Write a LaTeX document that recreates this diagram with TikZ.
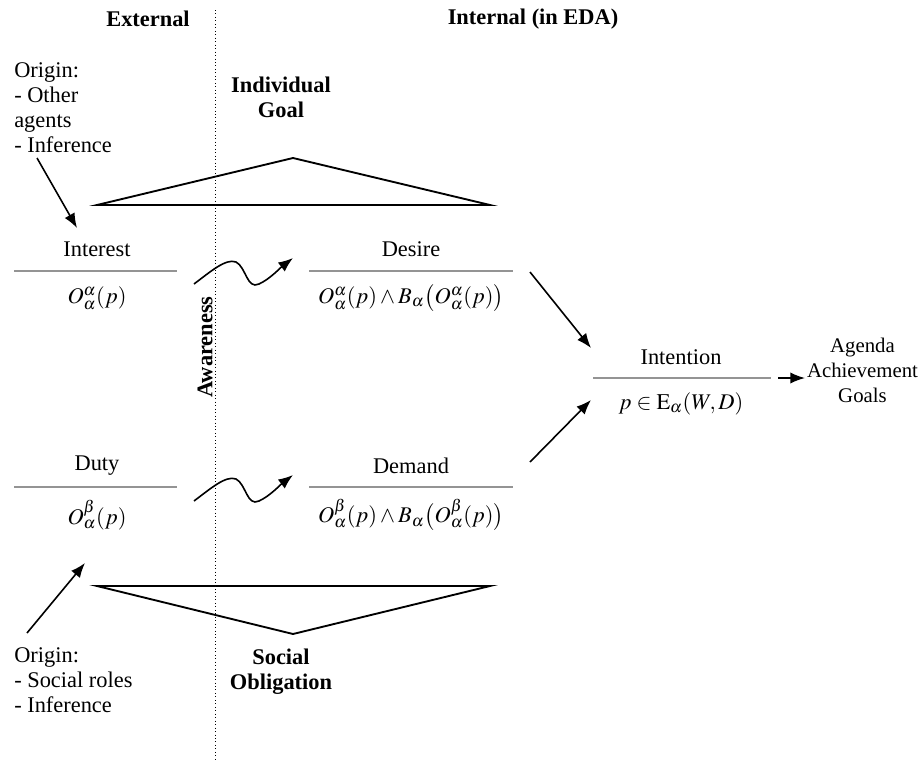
\documentclass[tikz,border=0pt]{standalone}
\usepackage{mathptmx}
\usepackage{fontspec}
\setmainfont{Liberation Serif}
\usetikzlibrary{arrows.meta}

\tikzset{
  lbl/.style={font=\fontsize{16.8}{18.75}\selectfont, inner sep=0pt, align=center},
  lblleft/.style={font=\fontsize{16.8}{18.75}\selectfont, inner sep=0pt, align=left},
  hdr/.style={font=\fontsize{16.8}{18.75}\selectfont\bfseries, inner sep=0pt, align=center},
  bar/.style={line width=2.2pt, draw=black!42},
  tri/.style={line width=1.4pt, line join=miter},
  arr/.style={line width=1.2pt, -{Latex[length=11pt,width=8.5pt]}},
  divider/.style={line width=0.6pt, dotted},
}

\begin{document}
\begin{tikzpicture}[x=0.75pt,y=-0.75pt]
\useasboundingbox (0,0) rectangle (918,768);

% column headings and the external/internal divider
\node[hdr] (ext) at (148,19) {External};
\node[hdr] (int) at (533,19) {Internal (in EDA)};
\coordinate (divtop) at (215,10);
\coordinate (divbot) at (215,762);
\draw[divider] (divtop) -- (divbot);
\node[hdr, rotate=90] (aware) at (205,347) {Awareness};

% individual goal (upper triangle)
\node[hdr] (igoal) at (281,97) {Individual\\Goal};
\coordinate (ta) at (97,205);
\coordinate (tb) at (490,205);
\coordinate (tc) at (293,158);
\draw[tri] (ta) -- (tc) -- (tb) -- cycle;

% social obligation (lower triangle)
\node[hdr] (sobl) at (281,672) {Social\\Obligation};
\coordinate (ba) at (97,586);
\coordinate (bb) at (490,586);
\coordinate (bc) at (293,634);
\draw[tri] (ba) -- (bc) -- (bb) -- cycle;

% origins
\node[lblleft, anchor=north west] (orig1) at (14,62) {Origin:\\- Other\\agents\\- Inference};
\node[lblleft, anchor=north west] (orig2) at (14,647) {Origin:\\- Social roles\\- Inference};

% Interest
\node[lbl] (interest) at (97,249) {Interest};
\coordinate (ib1) at (14,271); \coordinate (ib2) at (177,271);
\draw[bar] (ib1) -- (ib2);
\node[lbl] (interestf) at (97,298) {$O^{\alpha}_{\alpha}(p)$};

% Duty
\node[lbl] (duty) at (97,466) {Duty};
\coordinate (db1) at (14,487); \coordinate (db2) at (177,487);
\draw[bar] (db1) -- (db2);
\node[lbl] (dutyf) at (97,515) {$O^{\beta}_{\alpha}(p)$};

% Desire
\node[lbl] (desire) at (411,249) {Desire};
\coordinate (deb1) at (309,271); \coordinate (deb2) at (513,271);
\draw[bar] (deb1) -- (deb2);
\node[lbl] (desiref) at (411,298) {$O^{\alpha}_{\alpha}(p)\wedge B_{\alpha}\bigl(O^{\alpha}_{\alpha}(p)\bigr)$};

% Demand
\node[lbl] (demand) at (411,466) {Demand};
\coordinate (dmb1) at (309,487); \coordinate (dmb2) at (513,487);
\draw[bar] (dmb1) -- (dmb2);
\node[lbl] (demandf) at (411,515) {$O^{\beta}_{\alpha}(p)\wedge B_{\alpha}\bigl(O^{\beta}_{\alpha}(p)\bigr)$};

% Intention
\node[lbl] (intention) at (681,357) {Intention};
\coordinate (inb1) at (593,378); \coordinate (inb2) at (771,378);
\draw[bar] (inb1) -- (inb2);
\node[lbl] (intentionf) at (681,404) {$p\in \mathrm{E}_{\alpha}(W,D)$};

% Agenda
\node[lbl, font=\fontsize{15.6}{18.75}\selectfont] (agenda) at (862.5,370) {Agenda\\Achievement\\Goals};

% arrows from the origins
\coordinate (o1s) at (37,158); \coordinate (o1e) at (77,228);
\draw[arr] (o1s) -- (o1e);
\coordinate (o2s) at (27,633); \coordinate (o2e) at (85,563);
\draw[arr] (o2s) -- (o2e);

% awareness transitions (wavy arrows)
\coordinate (w1s) at (194,284); \coordinate (w1e) at (293,258);
\draw[arr] (w1s) .. controls (210,272) and (226,258) .. (236,262)
  .. controls (246,267) and (247,290) .. (259,284)
  .. controls (270,279) and (280,268) .. (w1e);
\coordinate (w2s) at (194,501); \coordinate (w2e) at (293,475);
\draw[arr] (w2s) .. controls (210,489) and (226,475) .. (236,479)
  .. controls (246,484) and (247,507) .. (259,501)
  .. controls (270,496) and (280,485) .. (w2e);

% towards intention and the agenda
\coordinate (de1) at (530,272); \coordinate (de2) at (591,348);
\draw[arr] (de1) -- (de2);
\coordinate (dm1) at (530,462); \coordinate (dm2) at (591,400);
\draw[arr] (dm1) -- (dm2);
\coordinate (ag1) at (778,378); \coordinate (ag2) at (805,378);
\draw[arr] (ag1) -- (ag2);
\end{tikzpicture}
\end{document}
